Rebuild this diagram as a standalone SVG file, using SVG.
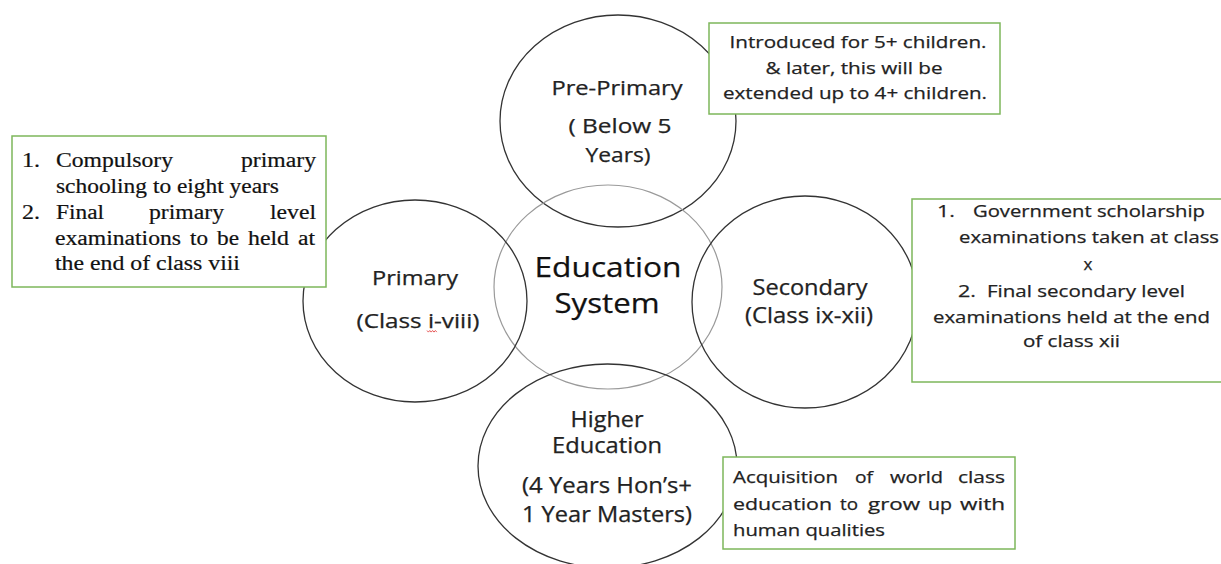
<svg xmlns="http://www.w3.org/2000/svg" width="1221" height="564" viewBox="0 0 1221 564">
<style>
.c{fill:none;stroke:#333;stroke-width:1.3}
.cg{fill:none;stroke:#9a9a9a;stroke-width:1.2}
.b{fill:#fff;stroke:#7db75b;stroke-width:1.5}
.t{font-family:"Open Sans","Liberation Sans",sans-serif;fill:#222;stroke:#222;stroke-width:0.25}
.m{text-anchor:middle}
.s{font-family:"Liberation Serif","Times New Roman",serif;fill:#111;stroke:#111;stroke-width:0.2;font-size:20px}
</style>
<rect width="1221" height="564" fill="#fff"/>
<g id="pre-primary">
<ellipse class="c" cx="618" cy="121" rx="118" ry="106"/>
<text class="t m" font-size="20" x="617" y="95" textLength="131" lengthAdjust="spacingAndGlyphs">Pre-Primary</text>
<text class="t m" font-size="20" x="620" y="133" textLength="103" lengthAdjust="spacingAndGlyphs">( Below 5</text>
<text class="t m" font-size="20" x="618" y="162" textLength="65" lengthAdjust="spacingAndGlyphs">Years)</text>
</g>
<g id="education-system">
<ellipse class="cg" cx="608" cy="287" rx="114" ry="102"/>
<text class="t m" font-size="28" x="608" y="277" textLength="147" lengthAdjust="spacingAndGlyphs" style="fill:#111;stroke:#111">Education</text>
<text class="t m" font-size="28" x="607" y="313" textLength="105" lengthAdjust="spacingAndGlyphs" style="fill:#111;stroke:#111">System</text>
</g>
<g id="primary">
<ellipse class="c" cx="415" cy="301" rx="112" ry="101"/>
<text class="t m" font-size="20" x="415" y="285" textLength="86" lengthAdjust="spacingAndGlyphs">Primary</text>
<text class="t m" font-size="20" x="418" y="328" textLength="123" lengthAdjust="spacingAndGlyphs">(Class i-viii)</text>
<path d="M427 330.5 l1.4 1.6 l1.4 -1.6 l1.4 1.6 l1.4 -1.6 l1.4 1.6 l1.4 -1.6 l1.4 1.6" fill="none" stroke="#e03030" stroke-width="0.8"/>
</g>
<g id="secondary">
<ellipse class="c" cx="805" cy="302" rx="113" ry="106"/>
<text class="t m" font-size="22" x="810" y="295" textLength="115" lengthAdjust="spacingAndGlyphs">Secondary</text>
<text class="t m" font-size="22" x="809" y="323" textLength="128" lengthAdjust="spacingAndGlyphs">(Class ix-xii)</text>
</g>
<g id="higher-education">
<ellipse class="c" cx="607.5" cy="466" rx="129.5" ry="102"/>
<text class="t m" font-size="21" x="607" y="427" textLength="73" lengthAdjust="spacingAndGlyphs">Higher</text>
<text class="t m" font-size="21" x="607" y="453" textLength="110" lengthAdjust="spacingAndGlyphs">Education</text>
<text class="t m" font-size="21" x="607" y="493" textLength="170" lengthAdjust="spacingAndGlyphs">(4 Years Hon’s+</text>
<text class="t m" font-size="21" x="607" y="522" textLength="170" lengthAdjust="spacingAndGlyphs">1 Year Masters)</text>
</g>
<g id="note-pre-primary">
<rect class="b" x="709" y="23" width="291" height="91"/>
<text class="t m" font-size="17" x="858" y="48" textLength="257" lengthAdjust="spacingAndGlyphs">Introduced for 5+ children.</text>
<text class="t m" font-size="17" x="854" y="74" textLength="177" lengthAdjust="spacingAndGlyphs">&amp; later, this will be</text>
<text class="t m" font-size="17" x="855" y="99" textLength="264" lengthAdjust="spacingAndGlyphs">extended up to 4+ children.</text>
</g>
<g id="note-primary">
<rect class="b" x="12" y="136" width="314" height="151"/>
<text class="s" x="22" y="167" textLength="18" lengthAdjust="spacingAndGlyphs">1.</text>
<text class="s" x="56" y="167" textLength="117" lengthAdjust="spacingAndGlyphs">Compulsory</text>
<text class="s" x="241" y="167" textLength="75" lengthAdjust="spacingAndGlyphs">primary</text>
<text class="s" x="56" y="193" textLength="223" lengthAdjust="spacingAndGlyphs">schooling to eight years</text>
<text class="s" x="22" y="219" textLength="18" lengthAdjust="spacingAndGlyphs">2.</text>
<text class="s" x="56" y="219" textLength="48" lengthAdjust="spacingAndGlyphs">Final</text>
<text class="s" x="149" y="219" textLength="75" lengthAdjust="spacingAndGlyphs">primary</text>
<text class="s" x="270" y="219" textLength="46" lengthAdjust="spacingAndGlyphs">level</text>
<text class="s" x="55" y="245" textLength="126" lengthAdjust="spacingAndGlyphs">examinations</text>
<text class="s" x="190" y="245" textLength="18" lengthAdjust="spacingAndGlyphs">to</text>
<text class="s" x="217" y="245" textLength="22" lengthAdjust="spacingAndGlyphs">be</text>
<text class="s" x="248" y="245" textLength="41" lengthAdjust="spacingAndGlyphs">held</text>
<text class="s" x="298" y="245" textLength="17" lengthAdjust="spacingAndGlyphs">at</text>
<text class="s" x="55" y="270" textLength="185" lengthAdjust="spacingAndGlyphs">the end of class viii</text>
</g>
<g id="note-secondary">
<rect class="b" x="912" y="199" width="320" height="183"/>
<text class="t" font-size="17" x="937" y="217" textLength="18" lengthAdjust="spacingAndGlyphs">1.</text>
<text class="t" font-size="17" x="973" y="217" textLength="232" lengthAdjust="spacingAndGlyphs">Government scholarship</text>
<text class="t" font-size="17" x="959" y="243" textLength="260" lengthAdjust="spacingAndGlyphs">examinations taken at class</text>
<text class="t m" font-size="17" x="1088" y="270">x</text>
<text class="t" font-size="17" x="958" y="297" textLength="18" lengthAdjust="spacingAndGlyphs">2.</text>
<text class="t" font-size="17" x="987" y="297" textLength="198" lengthAdjust="spacingAndGlyphs">Final secondary level</text>
<text class="t m" font-size="17" x="1071.5" y="323" textLength="277" lengthAdjust="spacingAndGlyphs">examinations held at the end</text>
<text class="t m" font-size="17" x="1071.5" y="347" textLength="97" lengthAdjust="spacingAndGlyphs">of class xii</text>
</g>
<g id="note-higher">
<rect class="b" x="723" y="457" width="292" height="92"/>
<text class="t" font-size="17" x="733" y="483" textLength="105" lengthAdjust="spacingAndGlyphs">Acquisition</text>
<text class="t" font-size="17" x="855" y="483" textLength="18" lengthAdjust="spacingAndGlyphs">of</text>
<text class="t" font-size="17" x="890" y="483" textLength="53" lengthAdjust="spacingAndGlyphs">world</text>
<text class="t" font-size="17" x="958" y="483" textLength="47" lengthAdjust="spacingAndGlyphs">class</text>
<text class="t" font-size="17" x="733" y="510" textLength="99" lengthAdjust="spacingAndGlyphs">education</text>
<text class="t" font-size="17" x="840" y="510" textLength="18" lengthAdjust="spacingAndGlyphs">to</text>
<text class="t" font-size="17" x="868" y="510" textLength="52" lengthAdjust="spacingAndGlyphs">grow</text>
<text class="t" font-size="17" x="928" y="510" textLength="24" lengthAdjust="spacingAndGlyphs">up</text>
<text class="t" font-size="17" x="960" y="510" textLength="45" lengthAdjust="spacingAndGlyphs">with</text>
<text class="t" font-size="17" x="733" y="536" textLength="152" lengthAdjust="spacingAndGlyphs">human qualities</text>
</g>
</svg>
